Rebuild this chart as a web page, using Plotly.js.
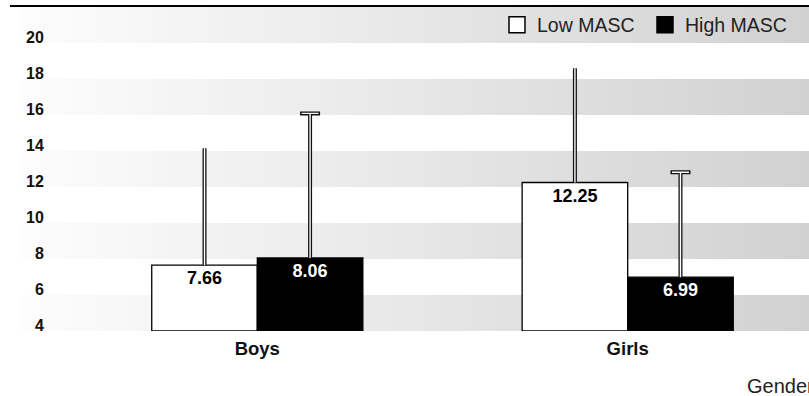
<!DOCTYPE html>
<html>
<head>
<meta charset="utf-8">
<script src="https://cdn.plot.ly/plotly-3.0.1.min.js"></script>
<style>
  html, body { margin: 0; padding: 0; background: #ffffff; }
  #chart { width: 809px; height: 396px; }
</style>
</head>
<body>
<div id="chart"></div>
<script>
// ---- data ----
const categories = ['Boys', 'Girls'];
const seriesNames = ['Low MASC', 'High MASC'];
const lowMasc = [7.66, 12.25];
const highMasc = [8.06, 6.99];
const lowMascErr = [6.49, 6.34];
const highMascErr = [8.03, 5.83];
const yTickValues = [4, 6, 8, 10, 12, 14, 16, 18, 20];
const yTickLabels = ['4', '6', '8', '10', '12', '14', '16', '18', '20'];
const axisBase = 4;
const axisTop = 22;
const xAxisTitle = 'Gender';

// ---- layout constants ----
const W = 809, H = 396;
const mL = 20, mR = 0, mT = 7, mB = 65;
const plotW = W - mL - mR, plotH = H - mT - mB;
const FONT = '"Liberation Sans", Arial, Helvetica, sans-serif';

const xPos = categories.map((c, i) => i);

function barTrace(name, group, values, fill, textColor) {
  return {
    type: 'bar',
    name: name,
    offsetgroup: group,
    x: xPos,
    y: values.map(v => v - axisBase),
    base: axisBase,
    text: values.map(v => v.toFixed(2)),
    texttemplate: '%{text}',
    textposition: 'inside',
    insidetextanchor: 'end',
    constraintext: 'none',
    textfont: { family: FONT, size: 18, color: textColor, weight: 'bold' },
    marker: { color: fill, line: { color: '#000000', width: 1.3 } },
    showlegend: false,
    hoverinfo: 'skip'
  };
}

// error bar stem (upper only, no caps) on an invisible bar at the same position
function stemTrace(name, group, values, errs, color, thickness) {
  return {
    type: 'bar', name: name, offsetgroup: group,
    x: xPos, y: values.map(v => v - axisBase), base: axisBase,
    marker: { color: 'rgba(0,0,0,0)', line: { width: 0 } },
    error_y: {
      type: 'data', symmetric: false, array: errs, arrayminus: errs.map(() => 0),
      color: color, thickness: thickness, width: 0
    },
    showlegend: false, hoverinfo: 'skip'
  };
}

// cap at the top end of the error bar
function capTrace(name, group, values, errs, color, thickness, capWidth) {
  return {
    type: 'bar', name: name, offsetgroup: group,
    x: xPos, y: values.map((v, i) => v + errs[i] - axisBase), base: axisBase,
    marker: { color: 'rgba(0,0,0,0)', line: { width: 0 } },
    error_y: {
      type: 'data', symmetric: true, array: errs.map(() => 0),
      color: color, thickness: thickness, width: capWidth
    },
    showlegend: false, hoverinfo: 'skip'
  };
}

function legendTrace(name, fill) {
  return {
    type: 'scatter', mode: 'markers', name: name,
    x: [null], y: [null],
    marker: { symbol: 'square', size: 16, color: fill, line: { color: '#000000', width: 1.5 } },
    showlegend: true, hoverinfo: 'skip'
  };
}

const traces = [
  barTrace(seriesNames[0], 'low', lowMasc, '#ffffff', '#000000'),
  barTrace(seriesNames[1], 'high', highMasc, '#000000', '#ffffff'),
  stemTrace(seriesNames[0], 'low', lowMasc, lowMascErr, '#111111', 4),
  stemTrace(seriesNames[1], 'high', highMasc, highMascErr, '#111111', 4),
  capTrace(seriesNames[1], 'high', highMasc, highMascErr, '#111111', 4, 10),
  stemTrace(seriesNames[0], 'low', lowMasc, lowMascErr, '#ffffff', 1.4),
  stemTrace(seriesNames[1], 'high', highMasc, highMascErr, '#ffffff', 1.4),
  capTrace(seriesNames[1], 'high', highMasc, highMascErr, '#ffffff', 1.4, 8.5),
  legendTrace(seriesNames[0], '#ffffff'),
  legendTrace(seriesNames[1], '#000000')
];

// ---- background bands: horizontal gradient on every other band ----
const shapes = [];
const STRIPS = 100;
const c0 = 253, c1 = 209;
for (let b = axisBase; b < axisTop; b += 4) {
  for (let s = 0; s < STRIPS; s++) {
    const t = (s + 0.5) / STRIPS;
    const g = Math.round(c0 + (c1 - c0) * t);
    shapes.push({
      type: 'rect', xref: 'paper', yref: 'y', layer: 'below',
      x0: s / STRIPS, x1: Math.min(1, (s + 1.6) / STRIPS),
      y0: b, y1: b + 2,
      fillcolor: `rgb(${g},${g},${g})`, line: { width: 0 }
    });
  }
}
// top rule
shapes.push({
  type: 'line', xref: 'paper', yref: 'paper',
  x0: -10 / plotW, x1: 1, y0: 1 + 1 / plotH, y1: 1 + 1 / plotH,
  line: { color: '#000000', width: 2 }
});

// ---- y tick labels (right aligned over the bands) ----
const annotations = yTickValues.map((v, i) => ({
  xref: 'paper', yref: 'y', x: 25.5 / plotW, y: v,
  xanchor: 'right', yanchor: 'middle', yshift: 6,
  text: yTickLabels[i], showarrow: false,
  font: { family: FONT, size: 16, color: '#111111', weight: 'bold' }
}));
annotations.push({
  xref: 'paper', yref: 'paper', x: (745 - mL) / plotW, y: -(386 - (mT + plotH)) / plotH,
  xanchor: 'left', yanchor: 'middle', text: xAxisTitle, showarrow: false,
  font: { family: FONT, size: 20, color: '#222222' }
});

const barCenter0 = 257.3 - mL, groupSpacing = 370.4;
const r0 = -barCenter0 / groupSpacing;
const r1 = r0 + plotW / groupSpacing;

const layout = {
  width: W, height: H,
  margin: { l: mL, r: mR, t: mT, b: mB, pad: 0 },
  paper_bgcolor: '#ffffff',
  plot_bgcolor: 'rgba(0,0,0,0)',
  barmode: 'group',
  bargap: 0.43,
  bargroupgap: 0,
  font: { family: FONT, color: '#111111' },
  xaxis: {
    type: 'linear', range: [r0, r1],
    tickmode: 'array', tickvals: xPos, ticktext: categories,
    tickfont: { family: FONT, size: 18.5, color: '#111111', weight: 'bold' },
    ticklabelstandoff: 4,
    showgrid: false, zeroline: false, showline: false, ticks: '',
    fixedrange: true
  },
  yaxis: {
    range: [axisBase, axisTop],
    showticklabels: false, showgrid: false, zeroline: false, showline: false, ticks: '',
    fixedrange: true
  },
  showlegend: true,
  legend: {
    orientation: 'h',
    x: (497 - mL) / plotW, xanchor: 'left',
    y: (mT + plotH - 25) / plotH, yanchor: 'middle',
    entrywidth: 103,
    bgcolor: 'rgba(0,0,0,0)', borderwidth: 0,
    font: { family: FONT, size: 19.5, color: '#222222' },
    itemclick: false, itemdoubleclick: false
  },
  shapes: shapes,
  annotations: annotations
};

Plotly.newPlot('chart', traces, layout, { displayModeBar: false, staticPlot: true });
</script>
</body>
</html>
